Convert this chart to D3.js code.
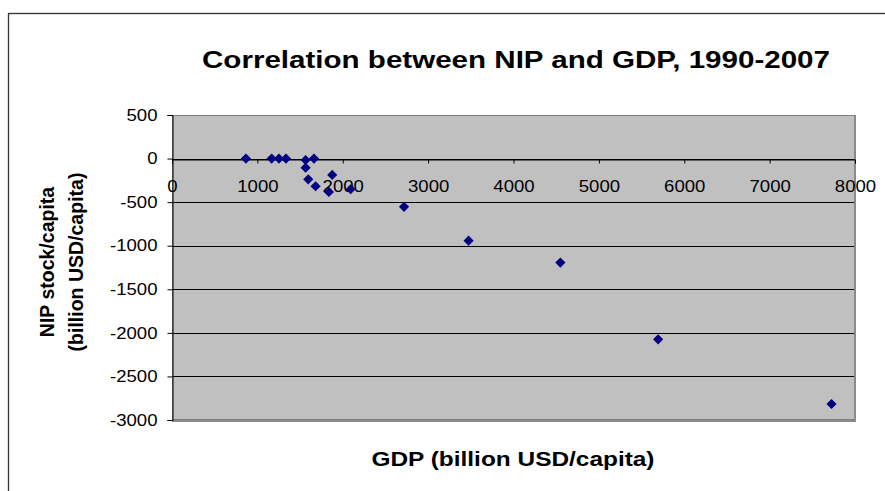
<!DOCTYPE html>
<html>
<head>
<meta charset="utf-8">
<script src="https://cdn.jsdelivr.net/npm/d3@7/dist/d3.min.js"></script>
<style>
  html, body { margin: 0; padding: 0; background: #fff; }
  svg { display: block; font-family: "Liberation Sans", Arial, sans-serif; }
</style>
</head>
<body>
<svg id="chart" width="885" height="491"></svg>
<script>
// GDP per capita (x) and NIP stock per capita (y), 1990-2007
const gdp = [866, 1167, 1253, 1335, 1565, 1663, 1565, 1596, 1682, 1877, 1838, 2092, 2718, 3474, 4549, 5694, 7725];
const nip = [0, 0, 0, 0, -16, 0, -104, -238, -318, -188, -383, -352, -554, -942, -1194, -2074, -2816];

const xTicks = [0, 1000, 2000, 3000, 4000, 5000, 6000, 7000, 8000];
const yTicks = [500, 0, -500, -1000, -1500, -2000, -2500, -3000];

const titleText = "Correlation between NIP and GDP, 1990-2007";
const xTitle = "GDP (billion USD/capita)";
const yTitle = ["NIP stock/capita", "(billion USD/capita)"];

const FONT = "'Liberation Sans', Arial, sans-serif";
const svg = d3.select("#chart");

// widen horizontal text slightly, as the chart's typeface runs wide
function widen(sel, factor) {
  sel.each(function () {
    const w = this.getComputedTextLength();
    d3.select(this).attr("textLength", w * factor).attr("lengthAdjust", "spacingAndGlyphs");
  });
}

// outer chart frame (right and bottom run past the page edge)
svg.append("rect")
  .attr("x", 8.5).attr("y", 13.5)
  .attr("width", 900).attr("height", 500)
  .attr("fill", "#fff").attr("stroke", "#333").attr("stroke-width", 1.3);

const plot = { left: 172, top: 115, right: 855, bottom: 420 };

const x = d3.scaleLinear().domain([0, 8000]).range([plot.left, plot.right]);
const y = d3.scaleLinear().domain([-3000, 500]).range([plot.bottom, plot.top]);

// plot area
svg.append("rect")
  .attr("x", plot.left).attr("y", plot.top)
  .attr("width", plot.right - plot.left).attr("height", plot.bottom - plot.top)
  .attr("fill", "#c0c0c0");

// horizontal gridlines
svg.append("g")
  .selectAll("line")
  .data(yTicks.filter(v => v !== 500 && v !== -3000))
  .join("line")
  .attr("x1", plot.left).attr("x2", plot.right)
  .attr("y1", d => Math.round(y(d)) + 0.5).attr("y2", d => Math.round(y(d)) + 0.5)
  .attr("stroke", "#000").attr("stroke-width", 1);

// plot area border: grey with heavier right/bottom edges
svg.append("rect")
  .attr("x", plot.left + 0.5).attr("y", plot.top + 0.5)
  .attr("width", plot.right - plot.left - 1).attr("height", plot.bottom - plot.top - 1)
  .attr("fill", "none").attr("stroke", "#808080").attr("stroke-width", 1);
svg.append("path")
  .attr("d", `M${plot.right},${plot.top} V${plot.bottom + 1} H${plot.left}`)
  .attr("fill", "none").attr("stroke", "#8a8a8a").attr("stroke-width", 2);

// y axis
const yAxis = d3.axisLeft(y).tickValues(yTicks).tickSize(5).tickPadding(10).tickFormat(d3.format("d"));
const gy = svg.append("g")
  .attr("transform", `translate(${plot.left + 0.5},0)`)
  .call(yAxis);
gy.select(".domain").attr("stroke", "#000");
gy.selectAll(".tick line").attr("stroke", "#000");
gy.selectAll(".tick text")
  .attr("font-size", 16.3).attr("fill", "#000").attr("font-family", FONT)
  .text(d => d < 0 ? "-" + Math.abs(d) : d);
widen(gy.selectAll(".tick text"), 1.14);

// x axis crossing at y = 0, labels below
const xAxis = d3.axisBottom(x).tickValues(xTicks).tickSize(4).tickPadding(17).tickFormat(d3.format("d"));
const gx = svg.append("g")
  .attr("transform", `translate(0,${Math.round(y(0)) + 0.5})`)
  .call(xAxis);
gx.select(".domain").attr("stroke", "#000");
gx.selectAll(".tick line").attr("stroke", "#000");
gx.selectAll(".tick text")
  .attr("font-size", 16.3).attr("fill", "#000").attr("font-family", FONT);
widen(gx.selectAll(".tick text"), 1.14);

// data markers (diamonds)
const diamond = d3.symbol().type(d3.symbolDiamond2).size(66);
svg.append("g")
  .selectAll("path")
  .data(gdp.map((g, i) => [g, nip[i]]))
  .join("path")
  .attr("transform", d => `translate(${x(d[0])},${y(d[1])})`)
  .attr("d", diamond)
  .attr("fill", "#000080");

// titles
svg.append("text")
  .attr("x", 516).attr("y", 68)
  .attr("text-anchor", "middle")
  .attr("font-size", 24).attr("font-weight", "bold")
  .attr("textLength", 628).attr("lengthAdjust", "spacingAndGlyphs")
  .text(titleText);

svg.append("text")
  .attr("x", 513).attr("y", 466)
  .attr("text-anchor", "middle")
  .attr("font-size", 19.5).attr("font-weight", "bold")
  .attr("textLength", 283).attr("lengthAdjust", "spacingAndGlyphs")
  .text(xTitle);

const yt = svg.append("text")
  .attr("transform", "translate(0,262) rotate(-90)")
  .attr("text-anchor", "middle")
  .attr("font-size", 19.5).attr("font-weight", "bold");
yt.append("tspan").attr("x", 0).attr("y", 54).text(yTitle[0]);
yt.append("tspan").attr("x", 0).attr("y", 83).text(yTitle[1]);
</script>
</body>
</html>
